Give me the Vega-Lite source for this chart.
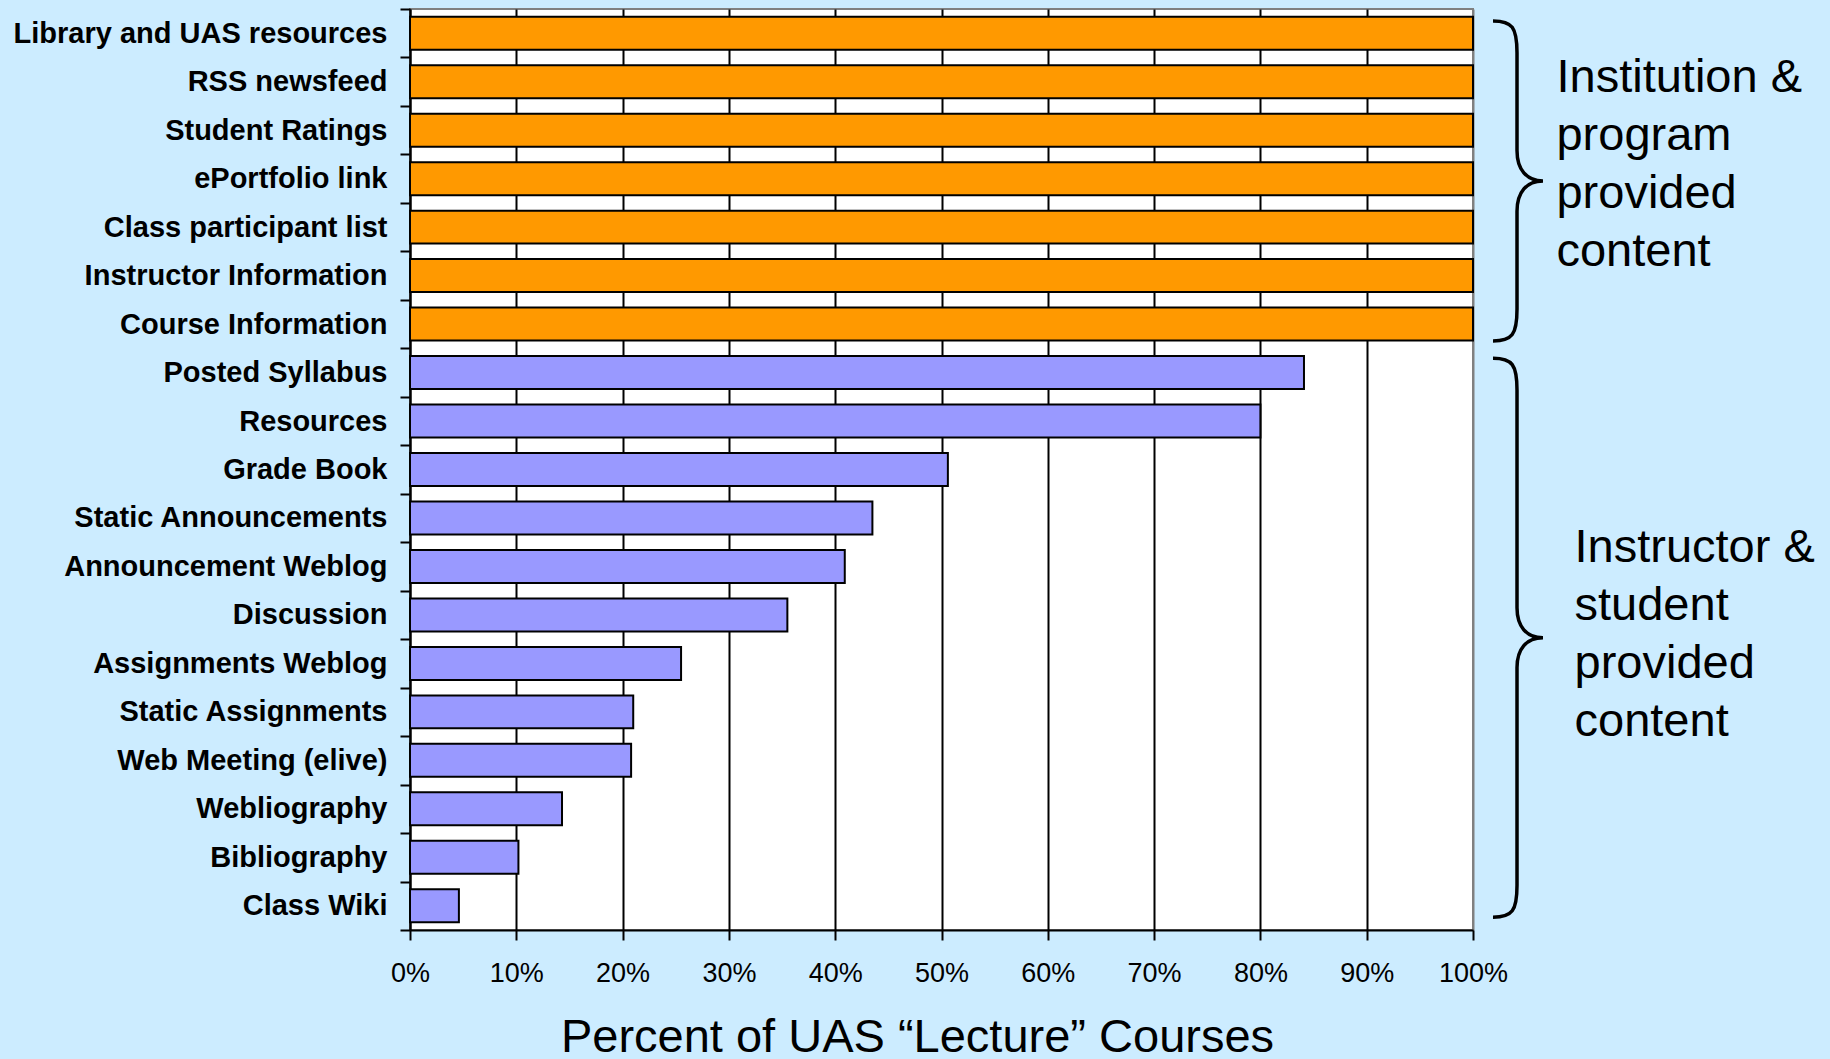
{
  "$schema": "https://vega.github.io/schema/vega-lite/v6.json",
  "width": 1063,
  "height": 921,
  "autosize": {"type": "none"},
  "padding": {"left": 410, "right": 357, "top": 9, "bottom": 129},
  "background": "#CCECFF",
  "config": {
    "view": {"fill": "white", "stroke": "#808080", "strokeWidth": 2},
    "font": "Liberation Sans"
  },
  "layer": [
    {
      "data": {
        "values": [
          {"item": "Library and UAS resources", "percent": 1.0, "provider": "Institution & program"},
          {"item": "RSS newsfeed", "percent": 1.0, "provider": "Institution & program"},
          {"item": "Student Ratings", "percent": 1.0, "provider": "Institution & program"},
          {"item": "ePortfolio link", "percent": 1.0, "provider": "Institution & program"},
          {"item": "Class participant list", "percent": 1.0, "provider": "Institution & program"},
          {"item": "Instructor Information", "percent": 1.0, "provider": "Institution & program"},
          {"item": "Course Information", "percent": 1.0, "provider": "Institution & program"},
          {"item": "Posted Syllabus", "percent": 0.841, "provider": "Instructor & student"},
          {"item": "Resources", "percent": 0.8, "provider": "Instructor & student"},
          {"item": "Grade Book", "percent": 0.506, "provider": "Instructor & student"},
          {"item": "Static Announcements", "percent": 0.435, "provider": "Instructor & student"},
          {"item": "Announcement Weblog", "percent": 0.409, "provider": "Instructor & student"},
          {"item": "Discussion", "percent": 0.355, "provider": "Instructor & student"},
          {"item": "Assignments Weblog", "percent": 0.255, "provider": "Instructor & student"},
          {"item": "Static Assignments", "percent": 0.21, "provider": "Instructor & student"},
          {"item": "Web Meeting (elive)", "percent": 0.208, "provider": "Instructor & student"},
          {"item": "Webliography", "percent": 0.143, "provider": "Instructor & student"},
          {"item": "Bibliography", "percent": 0.102, "provider": "Instructor & student"},
          {"item": "Class Wiki", "percent": 0.046, "provider": "Instructor & student"}
        ]
      },
      "mark": {"type": "bar", "height": {"band": 0.68}, "stroke": "black", "strokeWidth": 2},
      "encoding": {
        "y": {
          "field": "item",
          "type": "nominal",
          "sort": null,
          "scale": {
            "paddingInner": 0,
            "paddingOuter": 0,
            "domain": ["Library and UAS resources", "RSS newsfeed", "Student Ratings", "ePortfolio link", "Class participant list", "Instructor Information", "Course Information", "Posted Syllabus", "Resources", "Grade Book", "Static Announcements", "Announcement Weblog", "Discussion", "Assignments Weblog", "Static Assignments", "Web Meeting (elive)", "Webliography", "Bibliography", "Class Wiki"]
          },
          "axis": {
            "title": null,
            "tickBand": "extent",
            "grid": false,
            "domainColor": "black",
            "domainWidth": 2,
            "tickColor": "black",
            "tickWidth": 2,
            "tickSize": 10,
            "labelFont": "Liberation Sans",
            "labelFontWeight": "bold",
            "labelFontSize": 29,
            "labelColor": "black",
            "labelPadding": 13,
            "labelLimit": 500
          }
        },
        "x": {
          "field": "percent",
          "type": "quantitative",
          "scale": {"domain": [0, 1], "nice": false},
          "axis": {
            "values": [0, 0.1, 0.2, 0.3, 0.4, 0.5, 0.6, 0.7, 0.8, 0.9, 1],
            "format": ".0%",
            "grid": true,
            "gridColor": {"condition": {"test": "datum.value >= 1", "value": "#808080"}, "value": "black"},
            "gridWidth": 2,
            "gridOpacity": 1,
            "domainColor": "black",
            "domainWidth": 2,
            "tickColor": "black",
            "tickWidth": 2,
            "tickSize": 10,
            "labelFont": "Liberation Sans",
            "labelFontSize": 27,
            "labelColor": "black",
            "labelPadding": 20,
            "labelFlush": false,
            "labelOverlap": false,
            "title": "Percent of UAS “Lecture” Courses",
            "titleFont": "Liberation Sans",
            "titleFontSize": 47,
            "titleFontWeight": "normal",
            "titleColor": "black",
            "titleX": 507,
            "titleY": 121,
            "titleAlign": "center",
            "titleBaseline": "alphabetic"
          }
        },
        "color": {
          "field": "provider",
          "type": "nominal",
          "scale": {"domain": ["Institution & program", "Instructor & student"], "range": ["#FF9900", "#9999FF"]},
          "legend": null
        }
      }
    },
    {
      "data": {"values": [{"note": "Institution & program provided content"}]},
      "mark": {
        "type": "point",
        "shape": "M -0.15 -1 C -0.03 -1 0 -0.96 0 -0.8 L 0 -0.19 C 0 -0.07 0.06 0 0.1625 0 C 0.06 0 0 0.07 0 0.19 L 0 0.8 C 0 0.96 -0.03 1 -0.15 1",
        "size": 102400,
        "filled": false,
        "stroke": "black",
        "strokeWidth": 3.5,
        "opacity": 1
      },
      "encoding": {
        "x": {"datum": 1.0414, "type": "quantitative"},
        "y": {"datum": "ePortfolio link", "type": "nominal", "bandPosition": 0.546}
      }
    },
    {
      "data": {"values": [{"note": "Instructor & student provided content"}]},
      "mark": {
        "type": "point",
        "shape": "M -0.0859 -1 C -0.017 -1 0 -0.977 0 -0.8855 L 0 -0.107 C 0 -0.04 0.034 0 0.093 0 C 0.034 0 0 0.04 0 0.107 L 0 0.8855 C 0 0.977 -0.017 1 -0.0859 1",
        "size": 312481,
        "filled": false,
        "stroke": "black",
        "strokeWidth": 3.5,
        "opacity": 1
      },
      "encoding": {
        "x": {"datum": 1.0414, "type": "quantitative"},
        "y": {"datum": "Discussion", "type": "nominal", "bandPosition": 0.97}
      }
    },
    {
      "data": {"values": [{"note": "Institution &\nprogram\nprovided\ncontent"}]},
      "mark": {
        "type": "text",
        "align": "left",
        "baseline": "middle",
        "font": "Liberation Sans",
        "fontSize": 47,
        "lineHeight": 58,
        "color": "black",
        "lineBreak": "\n"
      },
      "encoding": {
        "text": {"field": "note", "type": "nominal"},
        "x": {"datum": 1.0785, "type": "quantitative"},
        "y": {"datum": "RSS newsfeed", "type": "nominal", "bandPosition": 0.42}
      }
    },
    {
      "data": {"values": [{"note": "Instructor &\nstudent\nprovided\ncontent"}]},
      "mark": {
        "type": "text",
        "align": "left",
        "baseline": "middle",
        "font": "Liberation Sans",
        "fontSize": 47,
        "lineHeight": 58,
        "color": "black",
        "lineBreak": "\n"
      },
      "encoding": {
        "text": {"field": "note", "type": "nominal"},
        "x": {"datum": 1.0955, "type": "quantitative"},
        "y": {"datum": "Announcement Weblog", "type": "nominal", "bandPosition": 0.12}
      }
    }
  ]
}
